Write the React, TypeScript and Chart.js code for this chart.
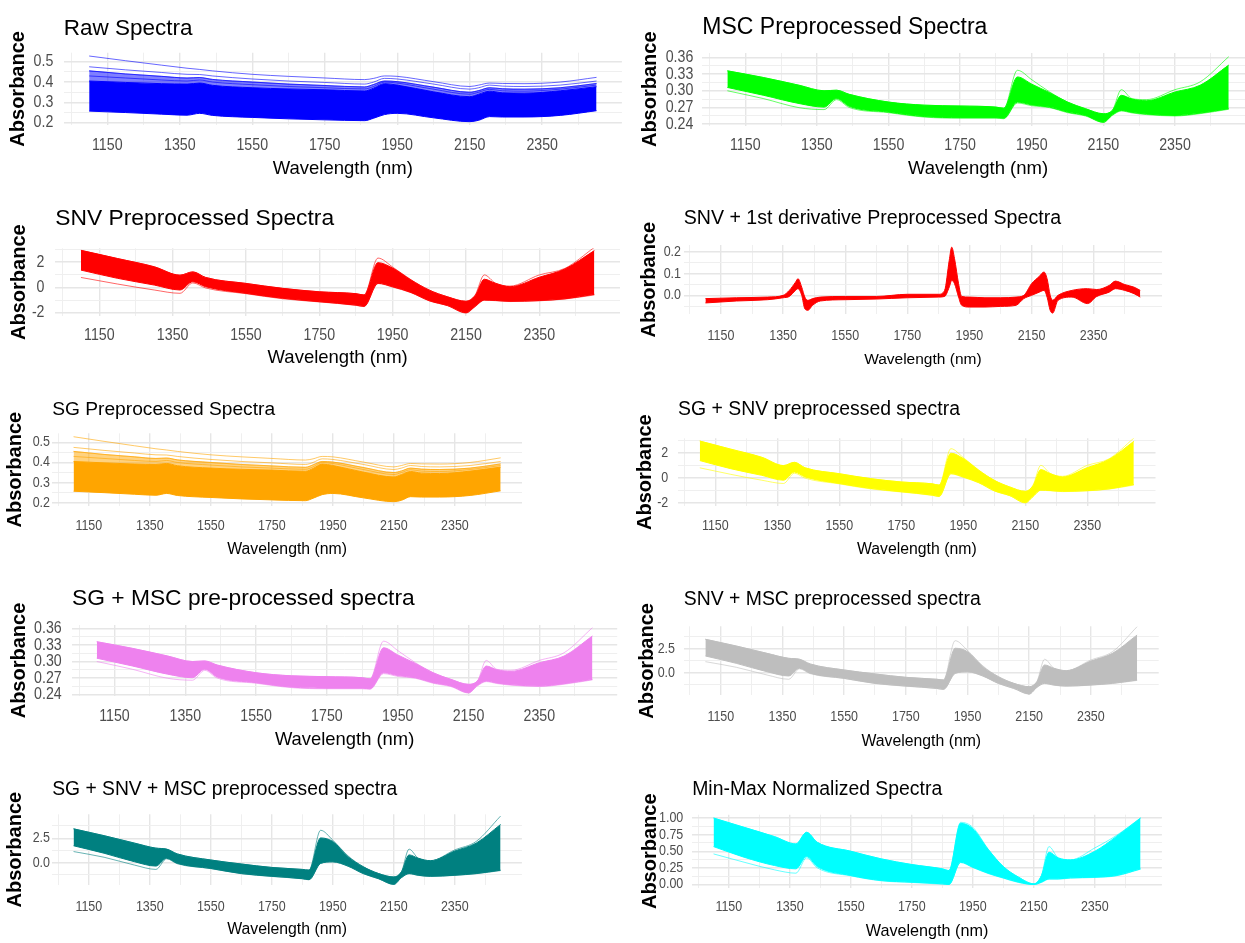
import React, { useEffect, useRef } from "react";
import { Chart, registerables } from "chart.js";

Chart.register(...registerables);

// ---------- axes ----------
const X_MIN = 1030;
const X_MAX = 2570;
const X_MAJOR = [1150, 1350, 1550, 1750, 1950, 2150, 2350];
const X_MINOR = [1050, 1250, 1450, 1650, 1850, 2050, 2250, 2450];

const Y_RAW_MAJOR = [0.2, 0.3, 0.4, 0.5];
const Y_RAW_MINOR = [0.25, 0.35, 0.45];
const Y_MSC_MAJOR = [0.24, 0.27, 0.3, 0.33, 0.36];
const Y_MSC_MINOR = [0.255, 0.285, 0.315, 0.345];
const Y_SNV_MAJOR = [-2, 0, 2];
const Y_SNV_MINOR = [-1, 1, 3];
const Y_D_MAJOR = [0, 0.1, 0.2];
const Y_D_MINOR = [-0.05, 0.05, 0.15];
const Y_SM_MAJOR = [0, 2.5];
const Y_SM_MINOR = [-1.25, 1.25, 3.75];
const Y_MM_MAJOR = [0, 0.25, 0.5, 0.75, 1];
const Y_MM_MINOR = [0.125, 0.375, 0.625, 0.875];

// ---------- raw / SG spectra ----------
const WL_RAW = [1100, 1200, 1300, 1370, 1405, 1440, 1550, 1650, 1750, 1860, 1885, 1915, 1950, 2050, 2150, 2175, 2205, 2240, 2300, 2400, 2500];
const RAW_LOWER = [0.257, 0.25, 0.242, 0.237, 0.246, 0.236, 0.226, 0.219, 0.214, 0.21, 0.222, 0.24, 0.246, 0.224, 0.205, 0.212, 0.23, 0.228, 0.228, 0.236, 0.259];
const RAW_UPPER = [0.405, 0.398, 0.392, 0.39, 0.395, 0.384, 0.372, 0.366, 0.362, 0.356, 0.37, 0.392, 0.385, 0.352, 0.328, 0.34, 0.355, 0.347, 0.345, 0.357, 0.377];
const RAW_LINE1 = [0.528, 0.505, 0.483, 0.468, 0.462, 0.455, 0.438, 0.428, 0.42, 0.412, 0.418, 0.43, 0.428, 0.402, 0.378, 0.385, 0.395, 0.393, 0.392, 0.4, 0.423];
const RAW_LINE2 = [0.475, 0.46, 0.447, 0.438, 0.437, 0.43, 0.415, 0.405, 0.398, 0.39, 0.4, 0.418, 0.415, 0.39, 0.365, 0.372, 0.385, 0.38, 0.378, 0.385, 0.405];
const RAW_LINE3 = [0.455, 0.44, 0.428, 0.42, 0.422, 0.413, 0.4, 0.39, 0.383, 0.376, 0.388, 0.405, 0.402, 0.375, 0.35, 0.358, 0.372, 0.367, 0.365, 0.372, 0.393];
const RAW_LINE4 = [0.43, 0.42, 0.41, 0.405, 0.41, 0.4, 0.387, 0.378, 0.372, 0.366, 0.378, 0.4, 0.395, 0.365, 0.34, 0.35, 0.364, 0.357, 0.355, 0.365, 0.385];

// ---------- common wavelength grid ----------
const WL = [1100, 1200, 1300, 1370, 1405, 1440, 1550, 1650, 1750, 1850, 1872, 1910, 1950, 2000, 2050, 2100, 2150, 2175, 2200, 2230, 2270, 2350, 2420, 2500];

// MSC / SG + MSC
const MSC_HI = [0.336, 0.324, 0.31, 0.3, 0.301, 0.2936, 0.2796, 0.274, 0.2725, 0.2705, 0.2685, 0.337, 0.32, 0.2978, 0.2796, 0.2676, 0.2585, 0.2645, 0.302, 0.2858, 0.284, 0.302, 0.316, 0.3615];
const MSC_UPPER = [0.336, 0.324, 0.31, 0.3, 0.301, 0.2936, 0.2796, 0.274, 0.2725, 0.2705, 0.2685, 0.325, 0.312, 0.2965, 0.2796, 0.2676, 0.2585, 0.2645, 0.2918, 0.285, 0.282, 0.2978, 0.31, 0.3464];
const MSC_LOWER = [0.306, 0.292, 0.277, 0.2705, 0.286, 0.272, 0.2615, 0.2535, 0.2515, 0.2515, 0.2505, 0.2796, 0.2745, 0.2705, 0.2615, 0.2555, 0.2433, 0.2565, 0.2645, 0.261, 0.258, 0.2555, 0.2597, 0.2676];
const MSC_LO = [0.3, 0.286, 0.2695, 0.266, 0.284, 0.27, 0.2605, 0.2525, 0.2505, 0.2505, 0.2495, 0.278, 0.273, 0.2695, 0.2605, 0.2545, 0.2428, 0.2555, 0.2635, 0.26, 0.257, 0.2545, 0.2587, 0.2666];

// SNV / SG + SNV
const SNV_HI = [2.92, 2.27, 1.62, 0.96, 1.22, 0.78, 0.31, -0.08, -0.35, -0.5, -0.6, 2.31, 1.6, 0.6, -0.22, -0.75, -1.1, -0.6, 0.98, 0.34, 0.1, 0.98, 1.5, 3.15];
const SNV_UPPER = [2.92, 2.27, 1.62, 0.96, 1.22, 0.78, 0.31, -0.08, -0.35, -0.5, -0.6, 1.95, 1.52, 0.58, -0.22, -0.75, -1.1, -0.65, 0.64, 0.32, 0.05, 0.8, 1.45, 2.9];
const SNV_LOWER = [1.36, 0.71, 0.18, -0.21, 0.44, 0.05, -0.47, -0.86, -1.13, -1.4, -1.5, 0.32, 0.05, -0.4, -1.05, -1.44, -2.0, -1.5, -1.0, -1.03, -1.1, -1.04, -0.9, -0.55];
const SNV_LO = [0.78, 0.26, -0.21, -0.47, 0.35, -0.05, -0.5, -0.9, -1.15, -1.42, -1.52, 0.3, 0.02, -0.42, -1.07, -1.45, -2.02, -1.52, -1.02, -1.05, -1.12, -1.06, -0.92, -0.6];

// SNV + MSC / SG + SNV + MSC
const SM_HI = [3.46, 2.76, 2.0, 1.49, 1.39, 0.9, 0.28, -0.13, -0.48, -0.68, -0.75, 3.31, 2.3, 0.7, -0.41, -1.1, -1.45, -0.93, 1.39, 0.46, 0.21, 1.31, 2.17, 4.76];
const SM_UPPER = [3.46, 2.76, 2.0, 1.49, 1.39, 0.9, 0.28, -0.13, -0.48, -0.68, -0.75, 2.53, 2.17, 0.62, -0.41, -1.1, -1.45, -0.93, 0.8, 0.46, 0.21, 1.2, 2.0, 3.9];
const SM_LOWER = [1.73, 0.97, 0.1, -0.34, 0.46, -0.06, -0.58, -1.1, -1.38, -1.62, -1.72, -0.06, 0.1, -0.34, -1.1, -1.62, -2.2, -1.51, -1.1, -1.27, -1.38, -1.27, -1.1, -0.76];
const SM_LO = [1.14, 0.56, -0.24, -0.68, 0.4, -0.1, -0.6, -1.12, -1.4, -1.64, -1.74, -0.08, 0.08, -0.36, -1.12, -1.64, -2.22, -1.53, -1.12, -1.29, -1.4, -1.29, -1.12, -0.8];

// Min-Max normalised
const MM_HI = [1.0, 0.86, 0.72, 0.61, 0.785, 0.635, 0.5, 0.385, 0.3, 0.235, 0.21, 0.935, 0.86, 0.535, 0.27, 0.11, 0.01, 0.135, 0.57, 0.4, 0.37, 0.55, 0.735, 1.0];
const MM_UPPER = [1.0, 0.86, 0.72, 0.61, 0.785, 0.635, 0.5, 0.385, 0.3, 0.235, 0.21, 0.92, 0.84, 0.53, 0.27, 0.11, 0.01, 0.135, 0.485, 0.4, 0.37, 0.5, 0.72, 1.0];
const MM_LOWER = [0.57, 0.41, 0.285, 0.235, 0.42, 0.27, 0.135, 0.06, 0.035, 0.01, 0.0, 0.335, 0.26, 0.17, 0.1, 0.035, 0.0, 0.035, 0.085, 0.085, 0.1, 0.11, 0.135, 0.235];
const MM_LO = [0.46, 0.335, 0.22, 0.17, 0.4, 0.25, 0.13, 0.055, 0.03, 0.005, 0.0, 0.33, 0.255, 0.165, 0.095, 0.03, 0.0, 0.03, 0.08, 0.08, 0.095, 0.105, 0.13, 0.23];

// SNV + 1st derivative
const WL_D = [1100, 1200, 1300, 1350, 1370, 1390, 1398, 1410, 1420, 1430, 1445, 1470, 1550, 1650, 1750, 1850, 1870, 1885, 1893, 1902, 1915, 1925, 1950, 2000, 2050, 2100, 2125, 2150, 2175, 2190, 2200, 2210, 2218, 2235, 2280, 2330, 2360, 2400, 2420, 2450, 2480, 2500];
const D_UPPER = [-0.015, -0.011, -0.008, 0.0, 0.023, 0.061, 0.077, 0.038, -0.008, -0.023, -0.015, -0.008, -0.005, -0.005, 0.005, 0.005, 0.023, 0.162, 0.223, 0.17, 0.054, -0.005, -0.008, -0.011, -0.011, -0.008, 0.0, 0.054, 0.088, 0.108, 0.077, 0.0, -0.023, 0.0, 0.023, 0.031, 0.027, 0.046, 0.066, 0.05, 0.038, 0.023];
const D_LOWER = [-0.035, -0.026, -0.02, -0.011, -0.005, 0.023, 0.031, 0.0, -0.062, -0.069, -0.046, -0.026, -0.02, -0.017, -0.011, -0.008, -0.005, 0.038, 0.069, 0.054, -0.008, -0.046, -0.054, -0.054, -0.051, -0.046, -0.015, 0.0, 0.015, 0.023, -0.008, -0.069, -0.082, -0.023, -0.008, -0.038, -0.005, 0.015, 0.031, 0.023, 0.008, -0.008];

// ---------- fonts ----------
const SANS = '"Liberation Sans", Arial, Helvetica, sans-serif';
const TICK_SQUEEZE = 0.86;

type Panel = {
  title: string;
  color: string;
  cellX: number;
  cellY: number;
  cellH: number;
  L: number;
  R: number;
  T: number;
  B: number;
  ymin: number;
  ymax: number;
  yMajor: number[];
  yMinor: number[];
  yDec: number;
  titleCy: number;
  fsTitle: number;
  yTitleCx: number;
  yTickRight: number;
  xTickCy: number;
  xTitleCy: number;
  fsX: number;
  big: boolean;
  wl: number[];
  lower: number[];
  upper: number[];
  soft?: number[];
  lines: number[][];
};

const PANELS: Panel[] = [
  {
    title: "Raw Spectra", color: "#0000FF",
    cellX: 0, cellY: 0, cellH: 190, L: 63.8, R: 621.9, T: 52.7, B: 125,
    ymin: 0.1887, ymax: 0.5443, yMajor: Y_RAW_MAJOR, yMinor: Y_RAW_MINOR, yDec: 1,
    titleCy: 28.7, fsTitle: 22.5, yTitleCx: 18.3, yTickRight: 53.3, xTickCy: 145.7, xTitleCy: 168.5, fsX: 18.5, big: true,
    wl: WL_RAW, lower: RAW_LOWER, upper: RAW_UPPER, soft: RAW_LINE3, lines: [RAW_LINE1, RAW_LINE2, RAW_LINE3, RAW_LINE4],
  },
  {
    title: "MSC Preprocessed Spectra", color: "#00FF00",
    cellX: 625, cellY: 0, cellH: 190, L: 702.3, R: 1253.8, T: 53, B: 125.5,
    ymin: 0.2373, ymax: 0.3682, yMajor: Y_MSC_MAJOR, yMinor: Y_MSC_MINOR, yDec: 2,
    titleCy: 27.5, fsTitle: 23, yTitleCx: 650, yTickRight: 693.3, xTickCy: 145.7, xTitleCy: 168.5, fsX: 18.5, big: true,
    wl: WL, lower: MSC_LOWER, upper: MSC_UPPER, lines: [MSC_HI, MSC_LO],
  },
  {
    title: "SNV Preprocessed Spectra", color: "#FF0000",
    cellX: 0, cellY: 190, cellH: 190, L: 55.3, R: 620, T: 248.3, B: 316,
    ymin: -2.26, ymax: 3.08, yMajor: Y_SNV_MAJOR, yMinor: Y_SNV_MINOR, yDec: 0,
    titleCy: 218.7, fsTitle: 22.8, yTitleCx: 19.2, yTickRight: 44.5, xTickCy: 335.7, xTitleCy: 358.3, fsX: 18.5, big: true,
    wl: WL, lower: SNV_LOWER, upper: SNV_UPPER, lines: [SNV_HI, SNV_LO],
  },
  {
    title: "SNV + 1st derivative Preprocessed Spectra", color: "#FF0000",
    cellX: 625, cellY: 190, cellH: 190, L: 683.7, R: 1162, T: 245, B: 314.4,
    ymin: -0.088, ymax: 0.233, yMajor: Y_D_MAJOR, yMinor: Y_D_MINOR, yDec: 1,
    titleCy: 218.3, fsTitle: 19.6, yTitleCx: 649, yTickRight: 681, xTickCy: 335.8, xTitleCy: 360, fsX: 15.5, big: false,
    wl: WL_D, lower: D_LOWER, upper: D_UPPER, lines: [],
  },
  {
    title: "SG Preprocessed Spectra", color: "#FFA500",
    cellX: 0, cellY: 380, cellH: 190, L: 52.2, R: 522, T: 433.3, B: 506,
    ymin: 0.1836, ymax: 0.545, yMajor: Y_RAW_MAJOR, yMinor: Y_RAW_MINOR, yDec: 1,
    titleCy: 410, fsTitle: 19.2, yTitleCx: 15.8, yTickRight: 50, xTickCy: 525.7, xTitleCy: 550, fsX: 15.8, big: false,
    wl: WL_RAW, lower: RAW_LOWER, upper: RAW_UPPER, soft: RAW_LINE3, lines: [RAW_LINE1, RAW_LINE2, RAW_LINE3, RAW_LINE4],
  },
  {
    title: "SG + SNV preprocessed spectra", color: "#FFFF00",
    cellX: 625, cellY: 380, cellH: 190, L: 678.1, R: 1155.5, T: 438.3, B: 506,
    ymin: -2.27, ymax: 3.14, yMajor: Y_SNV_MAJOR, yMinor: Y_SNV_MINOR, yDec: 0,
    titleCy: 409.5, fsTitle: 19.4, yTitleCx: 645.8, yTickRight: 668.3, xTickCy: 525.7, xTitleCy: 550, fsX: 15.8, big: false,
    wl: WL, lower: SNV_LOWER, upper: SNV_UPPER, lines: [SNV_HI, SNV_LO],
  },
  {
    title: "SG + MSC pre-processed spectra", color: "#EE82EE",
    cellX: 0, cellY: 570, cellH: 190, L: 72, R: 617.2, T: 625, B: 696,
    ymin: 0.2373, ymax: 0.3664, yMajor: Y_MSC_MAJOR, yMinor: Y_MSC_MINOR, yDec: 2,
    titleCy: 599.2, fsTitle: 22.8, yTitleCx: 19.2, yTickRight: 61.7, xTickCy: 716.7, xTitleCy: 739.5, fsX: 18.4, big: true,
    wl: WL, lower: MSC_LOWER, upper: MSC_UPPER, lines: [MSC_HI, MSC_LO],
  },
  {
    title: "SNV + MSC preprocessed spectra", color: "#BEBEBE",
    cellX: 625, cellY: 570, cellH: 190, L: 683.8, R: 1158.7, T: 626.3, B: 695.4,
    ymin: -2.35, ymax: 4.8, yMajor: Y_SM_MAJOR, yMinor: Y_SM_MINOR, yDec: 1,
    titleCy: 599.5, fsTitle: 19.4, yTitleCx: 647.5, yTickRight: 675, xTickCy: 716.7, xTitleCy: 741.7, fsX: 15.8, big: false,
    wl: WL, lower: SM_LOWER, upper: SM_UPPER, lines: [SM_HI, SM_LO],
  },
  {
    title: "SG + SNV + MSC preprocessed spectra", color: "#008080",
    cellX: 0, cellY: 760, cellH: 183, L: 52.2, R: 521.9, T: 814.3, B: 885,
    ymin: -2.27, ymax: 4.94, yMajor: Y_SM_MAJOR, yMinor: Y_SM_MINOR, yDec: 1,
    titleCy: 789.5, fsTitle: 19.3, yTitleCx: 15.8, yTickRight: 50, xTickCy: 906.7, xTitleCy: 930, fsX: 15.8, big: false,
    wl: WL, lower: SM_LOWER, upper: SM_UPPER, lines: [SM_HI, SM_LO],
  },
  {
    title: "Min-Max Normalized Spectra", color: "#00FFFF",
    cellX: 625, cellY: 760, cellH: 183, L: 692.2, R: 1161.9, T: 814.7, B: 887.8,
    ymin: -0.05, ymax: 1.05, yMajor: Y_MM_MAJOR, yMinor: Y_MM_MINOR, yDec: 2,
    titleCy: 789.5, fsTitle: 19.4, yTitleCx: 650, yTickRight: 683.3, xTickCy: 906.7, xTitleCy: 932, fsX: 16.2, big: false,
    wl: WL, lower: MM_LOWER, upper: MM_UPPER, lines: [MM_HI, MM_LO],
  },
];

const GRID_MAJOR = "#E6E6E6";
const GRID_MINOR = "#EFEFEF";

function rgba(hex: string, a: number): string {
  const n = parseInt(hex.slice(1), 16);
  return `rgba(${(n >> 16) & 255},${(n >> 8) & 255},${n & 255},${a})`;
}

function isIn(v: number, arr: number[]): boolean {
  return arr.some((m) => Math.abs(m - v) < 1e-9);
}

// Rotated y-axis title, drawn as canvas text.
const yTitlePlugin = {
  id: "yTitleText",
  afterDraw(chart: any, _args: any, opts: any) {
    const ctx = chart.ctx as CanvasRenderingContext2D;
    ctx.save();
    ctx.translate(opts.x, opts.y);
    ctx.rotate(-Math.PI / 2);
    ctx.font = opts.font;
    ctx.fillStyle = "#000000";
    ctx.textAlign = "center";
    ctx.textBaseline = "middle";
    ctx.fillText(opts.text, 0, 0);
    ctx.restore();
  },
};

// Tick labels in a slightly condensed face, placed with the chart's own scales.
const tickLabelPlugin = {
  id: "tickLabels",
  afterDraw(chart: any, _args: any, opts: any) {
    const ctx = chart.ctx as CanvasRenderingContext2D;
    const xs = chart.scales.x;
    const ys = chart.scales.y;
    ctx.save();
    ctx.font = `${opts.size}px ${SANS}`;
    ctx.fillStyle = "#4D4D4D";
    ctx.textBaseline = "middle";
    ctx.textAlign = "center";
    for (const v of opts.xValues as number[]) {
      const px = xs.getPixelForValue(v);
      ctx.save();
      ctx.translate(px, opts.xCy);
      ctx.scale(TICK_SQUEEZE, 1);
      ctx.fillText(String(v), 0, 0);
      ctx.restore();
    }
    ctx.textAlign = "right";
    for (const v of opts.yValues as number[]) {
      const py = ys.getPixelForValue(v);
      ctx.save();
      ctx.translate(opts.yRight, py);
      ctx.scale(TICK_SQUEEZE, 1);
      ctx.fillText(v.toFixed(opts.yDec), 0, 0);
      ctx.restore();
    }
    ctx.restore();
  },
};

function buildConfig(p: Panel, W: number, H: number) {
  const fsTick = p.big ? 16.5 : 14.5;
  const pts = (ys: number[]) => p.wl.map((x, i) => ({ x, y: ys[i] }));
  const datasets: any[] = [
    {
      data: pts(p.lower),
      borderColor: p.color,
      backgroundColor: p.color,
      borderWidth: 1,
      pointRadius: 0,
      fill: false,
      cubicInterpolationMode: "monotone",
    },
    {
      data: pts(p.upper),
      borderColor: p.color,
      backgroundColor: p.color,
      borderWidth: 1,
      pointRadius: 0,
      fill: "-1",
      cubicInterpolationMode: "monotone",
    },
  ];
  if (p.soft) {
    datasets.push({
      data: pts(p.soft),
      borderColor: rgba(p.color, 0.5),
      backgroundColor: rgba(p.color, 0.5),
      borderWidth: 1,
      pointRadius: 0,
      fill: 1,
      cubicInterpolationMode: "monotone",
    });
  }
  for (const l of p.lines) {
    datasets.push({
      data: pts(l),
      borderColor: rgba(p.color, 0.6),
      borderWidth: 1,
      pointRadius: 0,
      fill: false,
      cubicInterpolationMode: "monotone",
    });
  }

  const titlePadTop = p.titleCy - p.cellY - 0.6 * p.fsTitle;
  const titlePadBottom = Math.max(0, p.T - p.cellY - titlePadTop - 1.2 * p.fsTitle);
  const yAxisWidth = p.L - p.cellX;
  const xAxisHeight = H - (p.B - p.cellY);
  const xTitlePadBottom = Math.max(0, p.cellY + H - p.xTitleCy - 0.6 * p.fsX);
  const padRight = W - (p.R - p.cellX);

  const xTicks = [...X_MINOR, ...X_MAJOR].sort((a, b) => a - b);
  const yTicks = [...p.yMinor, ...p.yMajor].sort((a, b) => a - b);

  const gridColor = (ctx: any) => (ctx.tick && (isIn(ctx.tick.value, X_MAJOR) || isIn(ctx.tick.value, p.yMajor)) ? GRID_MAJOR : GRID_MINOR);

  return {
    type: "line",
    data: { datasets },
    plugins: [yTitlePlugin, tickLabelPlugin],
    options: {
      animation: false,
      responsive: false,
      maintainAspectRatio: false,
      devicePixelRatio: 1,
      events: [],
      layout: { padding: { left: 0, top: 0, bottom: 0, right: padRight } },
      plugins: {
        legend: { display: false },
        tooltip: { enabled: false },
        title: {
          display: true,
          text: p.title,
          align: "start",
          fullSize: false,
          color: "#000000",
          font: { family: SANS, size: p.fsTitle, weight: "normal", lineHeight: 1.2 },
          padding: { top: titlePadTop, bottom: titlePadBottom },
        },
        yTitleText: {
          text: "Absorbance",
          x: p.yTitleCx - p.cellX,
          y: (p.T + p.B) / 2 - p.cellY,
          font: `bold 20px ${SANS}`,
        },
        tickLabels: {
          size: fsTick,
          xValues: X_MAJOR,
          xCy: p.xTickCy - p.cellY,
          yValues: p.yMajor,
          yRight: p.yTickRight - p.cellX,
          yDec: p.yDec,
        },
      },
      scales: {
        x: {
          type: "linear",
          position: "bottom",
          min: X_MIN,
          max: X_MAX,
          bounds: "data",
          afterBuildTicks: (axis: any) => {
            axis.ticks = xTicks.map((v) => ({ value: v }));
          },
          afterFit: (axis: any) => {
            axis.height = xAxisHeight;
          },
          ticks: { display: false, autoSkip: false, maxRotation: 0, minRotation: 0 },
          grid: {
            drawTicks: false,
            color: gridColor,
            lineWidth: (ctx: any) => (ctx.tick && isIn(ctx.tick.value, X_MAJOR) ? 1.4 : 1),
          },
          border: { display: false },
          title: {
            display: true,
            text: "Wavelength (nm)",
            color: "#000000",
            font: { family: SANS, size: p.fsX, weight: "normal", lineHeight: 1.2 },
            padding: { top: 0, bottom: xTitlePadBottom },
          },
        },
        y: {
          type: "linear",
          position: "left",
          min: p.ymin,
          max: p.ymax,
          bounds: "data",
          afterBuildTicks: (axis: any) => {
            axis.ticks = yTicks.map((v) => ({ value: v }));
          },
          afterFit: (axis: any) => {
            axis.width = yAxisWidth;
          },
          ticks: { display: false, autoSkip: false },
          grid: {
            drawTicks: false,
            color: gridColor,
            lineWidth: (ctx: any) => (ctx.tick && isIn(ctx.tick.value, p.yMajor) ? 1.4 : 1),
          },
          border: { display: false },
          title: { display: false },
        },
      },
    },
  };
}

function SpectraPanel({ p }: { p: Panel }) {
  const ref = useRef<HTMLCanvasElement | null>(null);
  const W = Math.ceil(p.R - p.cellX);
  const H = p.cellH;
  useEffect(() => {
    if (!ref.current) return;
    const chart = new Chart(ref.current, buildConfig(p, W, H) as any);
    return () => chart.destroy();
  }, [p, W, H]);
  return (
    <canvas
      ref={ref}
      width={W}
      height={H}
      style={{ position: "absolute", left: p.cellX, top: p.cellY, width: W, height: H, display: "block" }}
    />
  );
}

export default function App() {
  return (
    <div
      style={{
        position: "absolute",
        left: 0,
        top: 0,
        width: 1245,
        height: 943,
        overflow: "hidden",
        background: "#FFFFFF",
      }}
    >
      {PANELS.map((p) => (
        <SpectraPanel key={p.title} p={p} />
      ))}
    </div>
  );
}
